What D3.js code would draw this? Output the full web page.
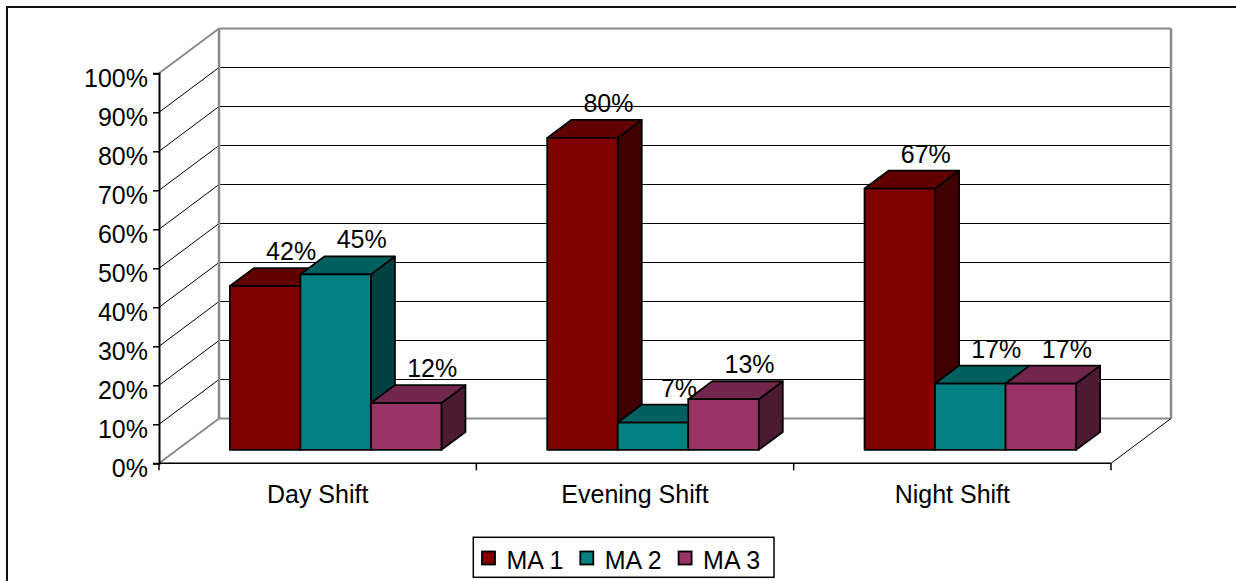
<!DOCTYPE html>
<html>
<head>
<meta charset="utf-8">
<script src="https://cdn.jsdelivr.net/npm/d3@7"></script>
<style>
  body { margin: 0; background: #fff; }
  svg { display: block; }
  text { font-family: Arial, "Liberation Sans", sans-serif; fill: #000; }
</style>
</head>
<body>
<svg id="chart" width="1236" height="581"></svg>
<script>
// ---- data ----
const categories = ["Day Shift", "Evening Shift", "Night Shift"];
const seriesNames = ["MA 1", "MA 2", "MA 3"];
const ma1 = [42, 80, 67];
const ma2 = [45, 7, 17];
const ma3 = [12, 13, 17];
const yTicks = [0, 10, 20, 30, 40, 50, 60, 70, 80, 90, 100];

const seriesValues = [ma1, ma2, ma3];
// front / top / side shades for each series
const seriesColors = [
  { front: "#800000", top: "#600000", side: "#400000" },
  { front: "#008080", top: "#006060", side: "#004040" },
  { front: "#993366", top: "#73264d", side: "#4d1a33" }
];

// ---- layout ----
const W = 1236, H = 581;
const floorLeft = 159, floorRight = 1111;   // front edge of the floor
const yBottom = 463.3, yTop = 73.3;         // front axis extent
const DX = 60, DY = 44.8;                    // depth projection offset
const Z0 = 0.3, Z1 = 0.7;                    // bar depth (fraction of full depth)

const svg = d3.select("#chart");
svg.append("rect").attr("width", W).attr("height", H).attr("fill", "#fff");

// outer chart frame
svg.append("rect")
  .attr("x", 7).attr("y", 7).attr("width", W + 20).attr("height", H + 20)
  .attr("fill", "none").attr("stroke", "#111").attr("stroke-width", 2);

const x0 = d3.scaleBand().domain(categories).range([floorLeft, floorRight]).padding(0);
const bw = x0.bandwidth();
// gap width 150%: three bars take 3 / 4.5 of each band
const x1 = d3.scaleBand().domain(seriesNames).range([bw * 0.75 / 4.5, bw * 3.75 / 4.5]).padding(0);
const y = d3.scaleLinear().domain([0, 100]).range([yBottom, yTop]);

const P = (xf, v, z) => [xf + z * DX, y(v) - z * DY];
const poly = pts => pts.map(p => p.join(",")).join(" ");

const grid = svg.append("g");
const wallGray = "#8a8a8a";

// back wall and left wall gridlines
yTicks.forEach(t => {
  const edge = (t === 0 || t === 100);
  const [bx, by] = P(floorLeft, t, 1);
  grid.append("line")
    .attr("x1", floorLeft).attr("y1", y(t)).attr("x2", bx).attr("y2", by)
    .attr("stroke", edge ? wallGray : "#000").attr("stroke-width", edge ? 2 : 1);
  grid.append("line")
    .attr("x1", bx).attr("y1", by).attr("x2", floorRight + DX).attr("y2", by)
    .attr("stroke", edge ? wallGray : "#000").attr("stroke-width", edge ? 2.2 : 1);
});
// back wall vertical edges
[floorLeft, floorRight].forEach(xf => {
  const [bx, byTop] = P(xf, 100, 1);
  const [, byBot] = P(xf, 0, 1);
  grid.append("line")
    .attr("x1", bx).attr("y1", byTop).attr("x2", bx).attr("y2", byBot)
    .attr("stroke", wallGray).attr("stroke-width", 2.5);
});
// floor right edge
{
  const [bx, by] = P(floorRight, 0, 1);
  grid.append("line")
    .attr("x1", floorRight).attr("y1", y(0)).attr("x2", bx).attr("y2", by)
    .attr("stroke", "#000").attr("stroke-width", 1);
}

// value axis
const yAxis = d3.axisLeft(y).tickValues(yTicks).tickSize(6).tickFormat(d => d + "%");
const gy = svg.append("g").attr("transform", `translate(${floorLeft},0)`).call(yAxis);
gy.select(".domain").attr("stroke", "#000").attr("stroke-width", 2);
gy.selectAll(".tick line").attr("stroke", "#000").attr("stroke-width", 1.5);
gy.selectAll(".tick text")
  .attr("x", -11).attr("dy", "0.52em")
  .style("font-size", "25px").style("font-family", "Arial, 'Liberation Sans', sans-serif")
  .attr("fill", "#000");

// category axis (front floor edge)
const xAxisG = svg.append("g");
xAxisG.append("line")
  .attr("x1", floorLeft).attr("y1", yBottom).attr("x2", floorRight).attr("y2", yBottom)
  .attr("stroke", "#000").attr("stroke-width", 1.5);
const bounds = categories.map(c => x0(c)).concat([floorRight]);
xAxisG.selectAll("line.tick").data(bounds).join("line")
  .attr("class", "tick")
  .attr("x1", d => d).attr("x2", d => d)
  .attr("y1", yBottom).attr("y2", yBottom + 7)
  .attr("stroke", "#000").attr("stroke-width", 1.5);
xAxisG.selectAll("text").data(categories).join("text")
  .attr("x", d => x0(d) + bw / 2)
  .attr("y", 503)
  .attr("text-anchor", "middle")
  .style("font-size", "25px")
  .text(d => d);

// 3D columns, drawn left to right so each covers its neighbour's side face
const bars = svg.append("g");
const labels = svg.append("g");
categories.forEach((cat, i) => {
  seriesNames.forEach((s, j) => {
    const v = seriesValues[j][i];
    const c = seriesColors[j];
    const xl = x0(cat) + x1(s);
    const xr = xl + x1.bandwidth();
    const g = bars.append("g")
      .attr("stroke", "#000").attr("stroke-width", 1.8).attr("stroke-linejoin", "round");
    g.append("polygon")
      .attr("points", poly([P(xr, 0, Z0), P(xr, v, Z0), P(xr, v, Z1), P(xr, 0, Z1)]))
      .attr("fill", c.side);
    g.append("polygon")
      .attr("points", poly([P(xl, v, Z0), P(xr, v, Z0), P(xr, v, Z1), P(xl, v, Z1)]))
      .attr("fill", c.top);
    g.append("polygon")
      .attr("points", poly([P(xl, 0, Z0), P(xr, 0, Z0), P(xr, v, Z0), P(xl, v, Z0)]))
      .attr("fill", c.front);

    const [lx, ly] = P((xl + xr) / 2, v, Z1);
    labels.append("text")
      .attr("x", lx + 2).attr("y", ly - 8)
      .attr("text-anchor", "middle")
      .style("font-size", "25px")
      .text(v + "%");
  });
});

// legend
const legend = svg.append("g");
legend.append("rect")
  .attr("x", 473.3).attr("y", 537.3).attr("width", 300.7).attr("height", 40)
  .attr("fill", "#fff").attr("stroke", "#000").attr("stroke-width", 1.5);
const lx = d3.scalePoint().domain(seriesNames).range([482, 678.6]);
seriesNames.forEach((s, j) => {
  legend.append("rect")
    .attr("x", lx(s)).attr("y", 551.5).attr("width", 13).attr("height", 13)
    .attr("fill", seriesColors[j].front).attr("stroke", "#000").attr("stroke-width", 1.8);
  legend.append("text")
    .attr("x", lx(s) + 24.5).attr("y", 569)
    .style("font-size", "25px")
    .text(s);
});
</script>
</body>
</html>
